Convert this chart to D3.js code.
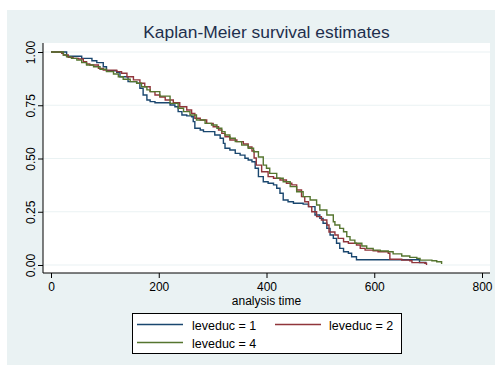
<!DOCTYPE html>
<html>
<head>
<meta charset="utf-8">
<script src="https://cdn.jsdelivr.net/npm/d3@7"></script>
<style>
  html, body { margin: 0; padding: 0; background: #ffffff; }
  svg { display: block; }
  text { font-family: "Liberation Sans", Arial, Helvetica, sans-serif; }
</style>
</head>
<body>
<div id="chart"></div>
<script>
// Kaplan-Meier step estimates by education level: [time, survival]
const groupLabels = ["leveduc = 1", "leveduc = 2", "leveduc = 4"];
const groupColors = ["#1a476f", "#90353b", "#55752f"];

const km1 = [
  [0,1],[29,0.980],[57,0.970],[76,0.959],[85,0.950],[97,0.931],[103,0.912],[122,0.905],
  [128,0.884],[143,0.861],[159,0.853],[165,0.830],[171,0.798],[178,0.775],[184,0.767],
  [193,0.762],[221,0.751],[230,0.743],[236,0.720],[243,0.704],[252,0.700],[261,0.696],
  [264,0.673],[267,0.642],[277,0.634],[283,0.626],[304,0.610],[314,0.595],[320,0.571],
  [323,0.548],[332,0.540],[342,0.524],[351,0.516],[360,0.501],[366,0.493],[373,0.485],
  [379,0.454],[385,0.415],[394,0.391],[403,0.384],[413,0.376],[419,0.360],[425,0.337],
  [431,0.305],[440,0.297],[450,0.290],[468,0.286],[478,0.274],[490,0.235],[499,0.219],
  [505,0.196],[512,0.172],[518,0.141],[524,0.125],[530,0.102],[536,0.078],[543,0.062],
  [552,0.055],[558,0.039],[567,0.025],[684,0.012],[697,0.012]
];

const km2 = [
  [0,1],[20,0.994],[23,0.986],[32,0.975],[41,0.970],[51,0.967],[60,0.954],[66,0.944],
  [72,0.939],[88,0.923],[97,0.915],[122,0.908],[131,0.900],[141,0.884],[153,0.869],
  [165,0.853],[174,0.837],[184,0.814],[193,0.798],[202,0.789],[212,0.775],[227,0.762],
  [239,0.743],[252,0.728],[261,0.712],[267,0.689],[277,0.681],[289,0.665],[301,0.649],
  [311,0.634],[317,0.618],[323,0.602],[332,0.587],[345,0.579],[357,0.568],[366,0.554],
  [373,0.535],[377,0.502],[381,0.469],[391,0.438],[403,0.415],[413,0.407],[425,0.399],
  [437,0.384],[447,0.376],[456,0.352],[465,0.321],[471,0.297],[478,0.274],[484,0.250],
  [493,0.227],[502,0.211],[512,0.188],[516,0.155],[527,0.141],[533,0.125],[543,0.109],
  [552,0.102],[567,0.094],[574,0.078],[583,0.070],[598,0.067],[607,0.062],[626,0.055],
  [629,0.027],[651,0.023],[666,0.020],[670,0.011],[694,0.008],[697,0.0]
];

const km4 = [
  [0,1],[23,0.986],[29,0.977],[38,0.970],[48,0.962],[57,0.950],[66,0.939],[79,0.931],
  [91,0.919],[103,0.908],[116,0.897],[125,0.884],[134,0.872],[147,0.861],[159,0.853],
  [168,0.837],[178,0.822],[184,0.814],[202,0.793],[221,0.759],[236,0.736],[246,0.720],
  [258,0.704],[270,0.681],[286,0.665],[298,0.657],[308,0.642],[317,0.626],[323,0.610],
  [332,0.595],[342,0.579],[354,0.563],[366,0.548],[376,0.532],[385,0.507],[394,0.469],
  [400,0.454],[406,0.430],[419,0.407],[431,0.391],[444,0.368],[456,0.344],[468,0.321],
  [481,0.305],[493,0.282],[499,0.258],[512,0.235],[524,0.203],[527,0.188],[536,0.172],
  [543,0.156],[549,0.133],[555,0.117],[564,0.102],[577,0.089],[586,0.078],[598,0.070],
  [611,0.066],[626,0.062],[635,0.052],[651,0.042],[666,0.036],[679,0.031],[685,0.023],
  [707,0.020],[716,0.015],[725,0.005]
];

const xTicks = [0, 200, 400, 600, 800];
const yTicks = [0, 0.25, 0.5, 0.75, 1];
const titleText = "Kaplan-Meier survival estimates";
const xTitle = "analysis time";

const W = 495, H = 365;
const graphBg = "#eaf2f3";
const plot = { left: 43, top: 43, right: 490, bottom: 273 };

const svg = d3.select("#chart").append("svg")
  .attr("width", W).attr("height", H);

// graph region
svg.append("rect").attr("x", 7).attr("y", 10)
  .attr("width", W - 7).attr("height", H - 10).attr("fill", graphBg);

// plot region
svg.append("rect").attr("x", plot.left).attr("y", plot.top)
  .attr("width", plot.right - plot.left).attr("height", plot.bottom - plot.top)
  .attr("fill", "#ffffff");

const x = d3.scaleLinear().domain([0, 800]).range([51, 482]);
const y = d3.scaleLinear().domain([0, 1]).range([265, 52]);

// horizontal grid
svg.append("g").selectAll("line").data(yTicks).join("line")
  .attr("x1", plot.left).attr("x2", plot.right)
  .attr("y1", d => y(d)).attr("y2", d => y(d))
  .attr("stroke", graphBg).attr("stroke-width", 1.2);

// curves
const line = d3.line().x(d => x(d[0])).y(d => y(d[1])).curve(d3.curveStepAfter);
const series = [km1, km2, km4];
svg.append("g").selectAll("path").data(series).join("path")
  .attr("d", line)
  .attr("fill", "none")
  .attr("stroke", (d, i) => groupColors[i])
  .attr("stroke-width", 1.4)
  .attr("stroke-linejoin", "miter");

// y axis
const yAxis = svg.append("g").attr("transform", `translate(${plot.left},0)`)
  .call(d3.axisLeft(y).tickValues(yTicks).tickFormat(d3.format(".2f")).tickSize(5).tickSizeOuter(0));
yAxis.select(".domain").remove();
yAxis.selectAll(".tick line").attr("stroke", "#000");
yAxis.selectAll(".tick text")
  .attr("font-size", 12).attr("fill", "#000")
  .attr("x", 0).attr("dy", null)
  .attr("text-anchor", "middle")
  .attr("transform", "translate(-8,0) rotate(-90)")
  .attr("y", 0);
yAxis.append("line").attr("x1", 0).attr("x2", 0)
  .attr("y1", plot.top).attr("y2", plot.bottom)
  .attr("stroke", "#000").attr("stroke-width", 1);

// x axis
const xAxis = svg.append("g").attr("transform", `translate(0,${plot.bottom})`)
  .call(d3.axisBottom(x).tickValues(xTicks).tickFormat(d3.format("d")).tickSize(5).tickSizeOuter(0));
xAxis.select(".domain").remove();
xAxis.selectAll(".tick line").attr("stroke", "#000");
xAxis.selectAll(".tick text")
  .attr("font-size", 12).attr("fill", "#000")
  .attr("dy", null).attr("y", 17.5);
xAxis.append("line").attr("x1", plot.left).attr("x2", plot.right)
  .attr("y1", 0).attr("y2", 0)
  .attr("stroke", "#000").attr("stroke-width", 1);

// axis title
svg.append("text").attr("x", (x(0) + x(800)) / 2).attr("y", 304.5)
  .attr("text-anchor", "middle").attr("font-size", 12).attr("fill", "#000")
  .text(xTitle);

// title
svg.append("text").attr("x", 266.5).attr("y", 38)
  .attr("text-anchor", "middle").attr("font-size", 17.4).attr("fill", "#1e2f4d")
  .text(titleText);

// legend
const leg = svg.append("g");
leg.append("rect").attr("x", 132.5).attr("y", 313.5).attr("width", 269).attr("height", 40)
  .attr("fill", "#ffffff").attr("stroke", "#000").attr("stroke-width", 1);
const legPos = [
  { lx: 137, tx: 192, ly: 324.5, ty: 329.5 },
  { lx: 275, tx: 329, ly: 324.5, ty: 329.5 },
  { lx: 137, tx: 192, ly: 342.5, ty: 347.5 }
];
const items = leg.selectAll("g.item").data(groupLabels).join("g").attr("class", "item");
items.append("line")
  .attr("x1", (d, i) => legPos[i].lx).attr("x2", (d, i) => legPos[i].lx + 46)
  .attr("y1", (d, i) => legPos[i].ly).attr("y2", (d, i) => legPos[i].ly)
  .attr("stroke", (d, i) => groupColors[i]).attr("stroke-width", 1.4);
items.append("text")
  .attr("x", (d, i) => legPos[i].tx).attr("y", (d, i) => legPos[i].ty)
  .attr("font-size", 12.5).attr("fill", "#000")
  .text(d => d);
</script>
</body>
</html>
